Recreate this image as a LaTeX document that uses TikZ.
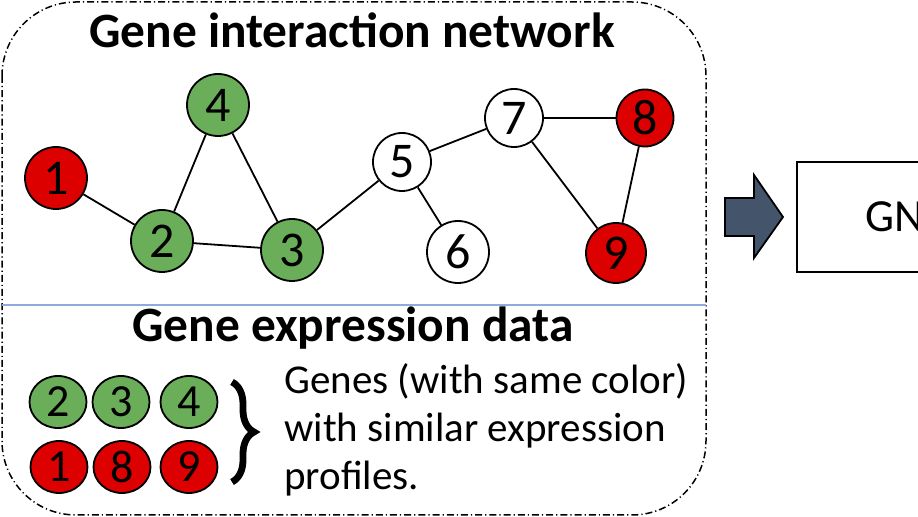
\documentclass[tikz,border=0pt]{standalone}
\usepackage{fontspec}
\setmainfont{Carlito}
\usetikzlibrary{shapes.geometric,decorations.pathreplacing}

\definecolor{genegreen}{RGB}{106,174,90}
\definecolor{genered}{RGB}{221,0,0}
\definecolor{arrowfill}{RGB}{68,84,106}
\definecolor{sepline}{RGB}{143,170,220}

\begin{document}
\begin{tikzpicture}[x=0.5pt,y=0.5pt,yscale=-1,xscale=1,
  gene/.style={draw, circle, line width=0.9pt, minimum size=31pt, inner sep=0pt, font=\fontsize{25}{25}\selectfont},
  genedot/.style={draw, ellipse, line width=0.9pt, minimum width=28.5pt, minimum height=26pt, inner sep=0pt, font=\fontsize{23}{23}\selectfont},
  link/.style={line width=0.9pt},
  title/.style={font=\fontsize{24.7}{24.7}\selectfont\bfseries},
  desc/.style={anchor=base west, inner sep=0pt, font=\fontsize{20.5}{24}\selectfont}]
\useasboundingbox (0,0) rectangle (918,517);
\clip (0,0) rectangle (918,517);

%Shape: Rounded Rect (dash dot)
\draw [line width=0.75pt, dash pattern={on 3.5pt off 1.5pt on 0.6pt off 1.5pt}, rounded corners=37pt] (2,2) rectangle (706,515);
%Straight Lines (separator)
\draw [sepline, line width=0.6pt] (2,305) -- (706,305);

% Text Node
\node [title] (nettitle) at (352,30) {Gene interaction network};
% Text Node
\node [title] (exptitle) at (353,328) {Gene expression data};

%Shape: Circles (network)
\node [gene, fill=genered] (n1) at (56,178) {1};
\node [gene, fill=genegreen] (n2) at (162,241) {2};
\node [gene, fill=genegreen] (n3) at (292,250) {3};
\node [gene, fill=genegreen] (n4) at (218,105) {4};
\node [gene, fill=white, minimum size=29pt] (n5) at (402,162) {5};
\node [gene, fill=white] (n6) at (458,252) {6};
\node [gene, fill=white, minimum size=29pt] (n7) at (514,118) {7};
\node [gene, fill=genered, minimum size=28.5pt] (n8) at (645,118) {8};
\node [gene, fill=genered, minimum size=30pt] (n9) at (616,253) {9};

%Straight Lines (edges)
\foreach \a/\b in {n1/n2, n2/n4, n4/n3, n2/n3, n3/n5, n5/n7, n5/n6, n7/n8, n7/n9, n8/n9}
  \draw [link] (\a) -- (\b);

%Shape: Ellipses (expression groups)
\node [genedot, fill=genegreen] (e2) at (58,402) {2};
\node [genedot, fill=genegreen] (e3) at (121,402) {3};
\node [genedot, fill=genegreen] (e4) at (189,402) {4};
\node [genedot, fill=genered] (e1) at (59,467) {1};
\node [genedot, fill=genered] (e8) at (122,467) {8};
\node [genedot, fill=genered] (e9) at (189,467) {9};

%Shape: Brace
\coordinate (bracetop) at (232,382);
\coordinate (bracebot) at (232,482);
\draw [line width=3.4pt, decorate, decoration={brace, amplitude=11pt}] (bracetop) -- (bracebot);

% Text Node
\node [desc] (desc1) at (284,394) {Genes (with same color)};
% Text Node
\node [desc] (desc2) at (284,442) {with similar expression};
% Text Node
\node [desc] (desc3) at (284,490) {profiles.};

%Shape: Right Arrow
\draw [fill=arrowfill, line width=0.9pt] (725,198) -- (754,198) -- (754,175) -- (783,217) -- (754,258) -- (754,236) -- (725,236) -- cycle;

%Shape: Rectangle
\draw [line width=0.9pt] (797,162) rectangle (1000,272);
% Text Node
\node [anchor=west, inner sep=0pt, font=\fontsize{23}{23}\selectfont] (gnn) at (865,217) {GN};

\end{tikzpicture}
\end{document}
